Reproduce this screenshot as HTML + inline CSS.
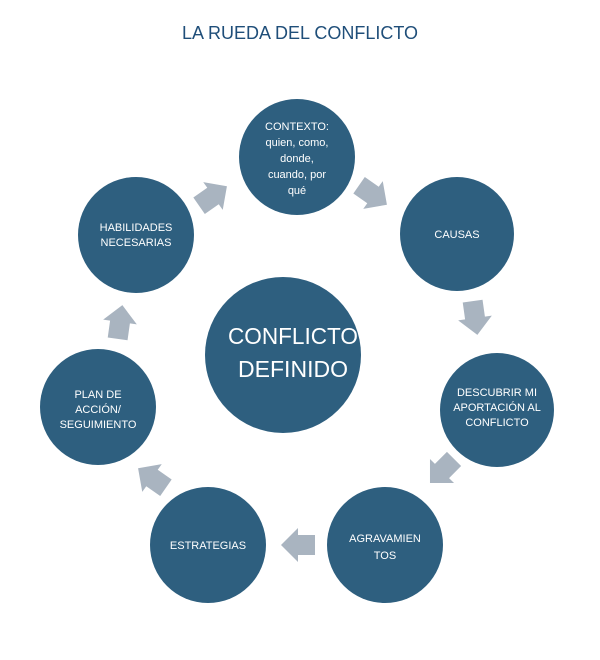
<!DOCTYPE html>
<html><head><meta charset="utf-8"><style>
html,body{margin:0;padding:0;background:#fff;}
svg{display:block;}
text{font-family:"Liberation Sans",sans-serif;fill:#fff;text-anchor:middle;}
</style></head><body>
<svg width="600" height="660" viewBox="0 0 600 660">
<defs>
<polygon id="ar" points="-17,-10 0,-10 0,-17 17,0 0,17 0,10 -17,10" fill="#a9b4c0"/>
</defs>
<text x="300" y="39" style="fill:#1f4e79;font-size:18px">LA RUEDA DEL CONFLICTO</text>
<g fill="#2e5f7f">
<circle cx="283" cy="355" r="78"/>
<circle cx="297" cy="157" r="58"/>
<circle cx="457" cy="234" r="57"/>
<circle cx="497" cy="410" r="57"/>
<circle cx="385" cy="545" r="58"/>
<circle cx="208" cy="545" r="58"/>
<circle cx="98" cy="407" r="58"/>
<circle cx="136" cy="235" r="58"/>
</g>
<use href="#ar" transform="translate(213,196) rotate(-35)"/>
<use href="#ar" transform="translate(373,195) rotate(35)"/>
<use href="#ar" transform="translate(475,318) rotate(82)"/>
<use href="#ar" transform="translate(442,471) rotate(135)"/>
<use href="#ar" transform="translate(298,545) rotate(180)"/>
<use href="#ar" transform="translate(152,478) rotate(215)"/>
<use href="#ar" transform="translate(120,322) rotate(-82)"/>
<text x="293" y="344" style="font-size:23px" textLength="130" lengthAdjust="spacingAndGlyphs">CONFLICTO</text>
<text x="293" y="377" style="font-size:23px" textLength="110" lengthAdjust="spacingAndGlyphs">DEFINIDO</text>
<g style="font-size:11px">
<text x="297" y="130">CONTEXTO:</text>
<text x="297" y="146">quien, como,</text>
<text x="297" y="162">donde,</text>
<text x="297" y="178">cuando, por</text>
<text x="297" y="194">qué</text>
<text x="457" y="238">CAUSAS</text>
<text x="497" y="396">DESCUBRIR MI</text>
<text x="497" y="411">APORTACIÓN AL</text>
<text x="497" y="426">CONFLICTO</text>
<text x="385" y="542">AGRAVAMIEN</text>
<text x="385" y="559">TOS</text>
<text x="208" y="549">ESTRATEGIAS</text>
<text x="98" y="398">PLAN DE</text>
<text x="98" y="413">ACCIÓN/</text>
<text x="98" y="428">SEGUIMIENTO</text>
<text x="136" y="231">HABILIDADES</text>
<text x="136" y="246">NECESARIAS</text>
</g>
</svg>
</body></html>
